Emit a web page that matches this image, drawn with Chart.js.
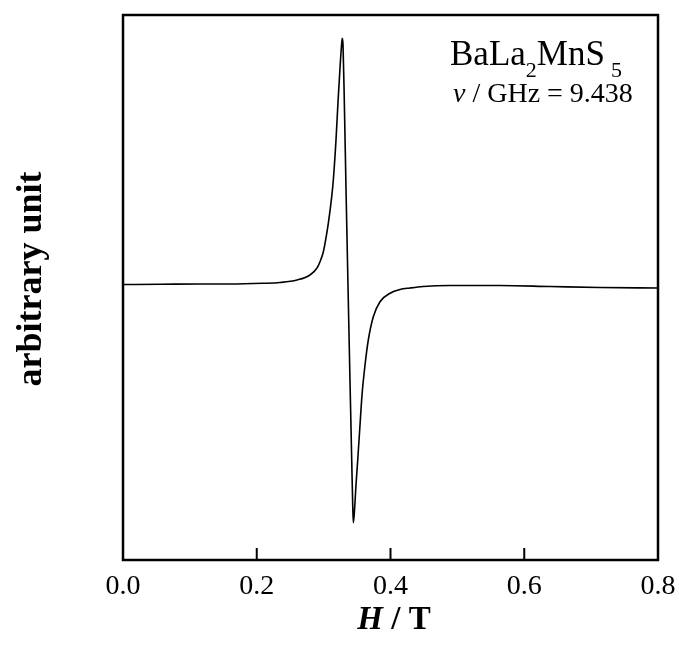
<!DOCTYPE html>
<html>
<head>
<meta charset="utf-8">
<title>BaLa2MnS5 ESR</title>
<script src="https://cdn.jsdelivr.net/npm/chart.js"></script>
<style>
  html, body { margin: 0; padding: 0; background: #fff; }
  #wrap { width: 679px; height: 649px; }
</style>
</head>
<body>
<div id="wrap"><canvas id="myChart" width="679" height="649"></canvas></div>
<script>
// magnetic field H / T
var fieldT = [0, 0.0553, 0.1151, 0.16, 0.2093, 0.2348, 0.2602, 0.2796, 0.2901, 0.2946,
  0.2991, 0.3021, 0.3070, 0.3121, 0.3145, 0.3185, 0.3215, 0.3245, 0.3267, 0.3279,
  0.3290, 0.3309, 0.3335, 0.3364, 0.3394, 0.3420, 0.3435, 0.3444, 0.3462, 0.3484,
  0.3510, 0.3544, 0.3574, 0.3619, 0.3668, 0.3743, 0.3843, 0.3993, 0.4142, 0.4292,
  0.4486, 0.4890, 0.5637, 0.6385, 0.7133, 0.8];
// ESR derivative signal, arbitrary unit
var signal = [0, 0.002, 0.005, 0.005, 0.012, 0.02, 0.045, 0.095, 0.165, 0.228,
  0.315, 0.412, 0.612, 0.878, 1.045, 1.445, 1.825, 2.165, 2.385, 2.462,
  2.395, 1.845, 0.945, 0.005, -0.955, -1.755, -2.205, -2.382, -2.255, -2.005,
  -1.755, -1.405, -1.105, -0.805, -0.555, -0.322, -0.172, -0.088, -0.05, -0.035,
  -0.02, -0.01, -0.01, -0.02, -0.03, -0.035];
var xTicks = [0, 0.2, 0.4, 0.6, 0.8];
var yRange = [-2.755, 2.695];

var serif = '"Liberation Serif", "Times New Roman", serif';

var data = [];
for (var i = 0; i < fieldT.length; i++) {
  data.push({ x: fieldT[i], y: signal[i] });
}

// frame, inward ticks and the texts
var framePlugin = {
  id: 'frame',
  afterDraw: function(chart) {
    var ctx = chart.ctx;
    var a = chart.chartArea;
    var xs = chart.scales.x;
    ctx.save();
    ctx.strokeStyle = '#000';
    ctx.lineWidth = 2.5;
    ctx.strokeRect(a.left, a.top, a.right - a.left, a.bottom - a.top);

    ctx.lineWidth = 2;
    xTicks.forEach(function(v) {
      var px = xs.getPixelForValue(v);
      ctx.beginPath();
      ctx.moveTo(px, a.bottom);
      ctx.lineTo(px, a.bottom - 12);
      ctx.stroke();
    });

    ctx.fillStyle = '#000';
    ctx.textBaseline = 'alphabetic';

    // x title  H / T
    ctx.font = 'italic bold 33px ' + serif;
    var wH = ctx.measureText('H').width;
    ctx.font = 'bold 33px ' + serif;
    var wR = ctx.measureText(' / T').width;
    var x0 = 394 - (wH + wR) / 2;
    ctx.textAlign = 'left';
    ctx.font = 'italic bold 33px ' + serif;
    ctx.fillText('H', x0, 629);
    ctx.font = 'bold 33px ' + serif;
    ctx.fillText(' / T', x0 + wH, 629);

    // y title
    ctx.save();
    ctx.translate(41, 279);
    ctx.rotate(-Math.PI / 2);
    ctx.textAlign = 'center';
    ctx.font = 'bold 36px ' + serif;
    ctx.fillText('arbitrary unit', 0, 0);
    ctx.restore();

    // compound label
    ctx.textAlign = 'left';
    var cx = 450;
    ctx.font = '35px ' + serif;
    ctx.fillText('BaLa', cx, 65);
    cx += ctx.measureText('BaLa').width;
    ctx.font = '22px ' + serif;
    ctx.fillText('2', cx, 77);
    cx += ctx.measureText('2').width;
    ctx.font = '35px ' + serif;
    ctx.fillText('MnS', cx, 65);
    cx += ctx.measureText('MnS').width + 6;
    ctx.font = '22px ' + serif;
    ctx.fillText('5', cx, 77);

    ctx.font = 'italic 28px ' + serif;
    ctx.fillText('\u03BD', 453, 102);
    var wNu = ctx.measureText('\u03BD').width;
    ctx.font = '28px ' + serif;
    ctx.fillText(' / GHz = 9.438', 453 + wNu, 102);
    ctx.restore();
  }
};

var ctx = document.getElementById('myChart').getContext('2d');
var myChart = new Chart(ctx, {
  type: 'line',
  data: {
    datasets: [{
      data: data,
      borderColor: '#000',
      borderWidth: 1.6,
      pointRadius: 0,
      fill: false,
      cubicInterpolationMode: 'monotone'
    }]
  },
  options: {
    responsive: false,
    animation: false,
    layout: { padding: { top: 15, right: 21, left: 0, bottom: 0 } },
    plugins: {
      legend: { display: false },
      tooltip: { enabled: false }
    },
    scales: {
      x: {
        type: 'linear',
        min: 0,
        max: 0.8,
        afterBuildTicks: function(scale) {
          scale.ticks = xTicks.map(function(v) { return { value: v }; });
        },
        afterFit: function(scale) {
          scale.height = 89;
          scale.paddingLeft = 0;
          scale.paddingRight = 0;
        },
        grid: { display: false },
        border: { display: false },
        ticks: {
          color: '#000',
          padding: 2,
          maxRotation: 0,
          autoSkip: false,
          font: { family: serif, size: 28 },
          callback: function(v) { return Number(v).toFixed(1); }
        }
      },
      y: {
        type: 'linear',
        min: yRange[0],
        max: yRange[1],
        afterFit: function(scale) { scale.width = 123; },
        grid: { display: false },
        border: { display: false },
        ticks: { display: false }
      }
    }
  },
  plugins: [framePlugin]
});
</script>
</body>
</html>
